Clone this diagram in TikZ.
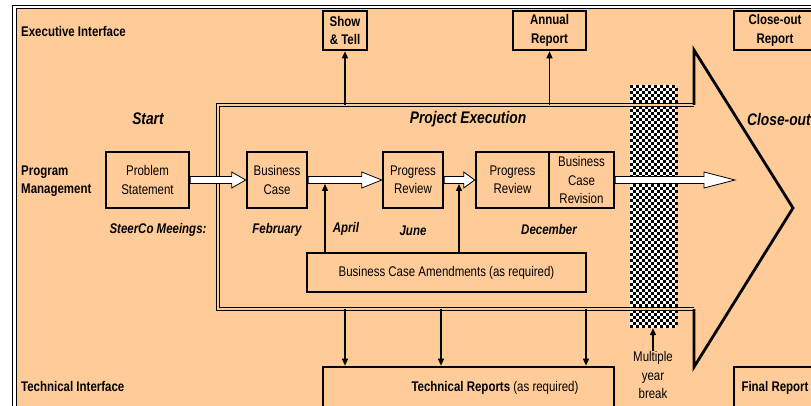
\documentclass[tikz,border=0pt]{standalone}
\usepackage{fontspec}
\setmainfont{Liberation Sans}[FakeStretch=0.82]
\usetikzlibrary{calc,arrows.meta}
\definecolor{peach}{RGB}{255,204,153}
\tikzset{
  box/.style={draw, line width=2.6pt, fill=peach, align=center, inner sep=0pt},
  lbl/.style={font=\bfseries, align=left, anchor=west, inner sep=0pt},
  stage/.style={font=\fontsize{16.8}{20}\selectfont\bfseries\itshape, inner sep=0pt},
  month/.style={font=\bfseries\itshape, inner sep=0pt},
  link/.style={line width=1.4pt, -{Triangle[length=7pt,width=6pt]}},
  frame/.style={line width=1.2pt, double distance=1.8pt},
}
% hollow block arrow: from, to, head length
\newcommand\fatarrow[3]{%
  \draw[line width=0.8pt, fill=white] let \p1=(#1), \p2=(#2) in
    (\x1,\y1+3.5pt) -- (\x2-#3,\y1+3.5pt) -- (\x2-#3,\y1+8pt) -- (\x2,\y1)
    -- (\x2-#3,\y1-8pt) -- (\x2-#3,\y1-3.5pt) -- (\x1,\y1-3.5pt) -- cycle;}

\begin{document}
\fontsize{14}{18.5}\selectfont
\begin{tikzpicture}[x=1pt,y=-1pt]
  %%%%% START %%%%%
  \useasboundingbox (0,0) rectangle (811,406);
  \draw[frame, double=white, fill=peach, line width=1.2pt, double distance=2.5pt] (14.5,7) rectangle (850,409);

  \node[lbl] (exec) at (21,31) {Executive Interface};
  \node[lbl] (prog) at (21,181) {Program\\Management};
  \node[lbl] (tech) at (21,386) {Technical Interface};

  % multiple year break
  \node[fill=white, minimum width=46pt, minimum height=243pt, inner sep=0pt] (chk) at (653,206.5) {};
  \foreach \j in {0,...,80} {
    \pgfmathsetmacro\off{mod(\j,2)*3}
    \foreach \i in {0,6,...,42}
      \fill (630+\i+\off,85+3*\j) rectangle ++(3,3);
  }
  \node[align=center, inner sep=0pt] (brk) at (653,375) {Multiple\\year\\break};
  \draw[link] (brk.north) -- (chk.south);

  % project execution arrow
  \coordinate (fnw) at (218,105);
  \coordinate (fsw) at (218,309);
  \coordinate (fne) at (694,105);
  \coordinate (fse) at (694,309);
  \coordinate (tip) at (793,208);
  \draw[frame, double=peach] (fne) -- (fnw) -- (fsw) -- (fse);
  \draw[line width=2.8pt] (fne) -- (694,50) -- (tip) -- (694,367) -- (fse);

  \node[stage] (start) at (148,119) {Start};
  \node[stage] (exe) at (468,119) {Project Execution};
  \node[stage, anchor=west] (close) at (747,119) {Close-out};

  % top boxes
  \node[box, minimum width=44pt, minimum height=39pt] (show) at (345,30.5) {\bfseries Show\\\bfseries \& Tell};
  \node[box, minimum width=73pt, minimum height=39pt] (annual) at (549.5,30.5) {\bfseries Annual\\\bfseries Report};
  \node[box, minimum width=82pt, minimum height=39pt] (cor) at (775,30.5) {\bfseries Close-out\\\bfseries Report};

  % program boxes
  \node[box, minimum width=83pt, minimum height=56pt] (prob) at (147.5,180) {Problem\\Statement};
  \node[box, minimum width=60pt, minimum height=56pt] (bc) at (277,180) {Business\\Case};
  \node[box, minimum width=60pt, minimum height=56pt] (pr1) at (413,180) {Progress\\Review};
  \node[box, minimum width=73pt, minimum height=56pt] (pr2) at (512.5,180) {Progress\\Review};
  \node[box, minimum width=65pt, minimum height=56pt] (bcr) at (581.5,180) {Business\\Case\\Revision};
  \coordinate (go) at (735,180);

  \fatarrow{prob.east}{bc.west}{14pt}
  \fatarrow{bc.east}{pr1.west}{20pt}
  \fatarrow{pr1.east}{pr2.west}{11pt}
  \fatarrow{bcr.east}{go}{31pt}

  \node[month] (steer) at (158,230) {SteerCo Meeings:};
  \node[month] (feb) at (277,230) {February};
  \node[month] (apr) at (346,229) {April};
  \node[month] (jun) at (413,231) {June};
  \node[month] (dec) at (549,229) {December};

  \node[box, minimum width=279pt, minimum height=39pt] (bca) at (446.5,272.5) {Business Case Amendments (as required)};
  \coordinate (up1) at (325,184);
  \coordinate (up2) at (459,184);
  \draw[link] (up1 |- bca.north) -- (up1);
  \draw[link] (up2 |- bca.north) -- (up2);

  % bottom boxes
  \node[box, minimum width=291pt, minimum height=41pt] (tr) at (468.5,387.5) {\hspace*{53pt}\textbf{Technical Reports} (as required)};
  \node[box, minimum width=82pt, minimum height=41pt] (fin) at (775,387.5) {\bfseries Final Report};

  % reporting links
  \draw[link] (show.south |- fnw) -- (show.south);
  \draw[link] (annual.south |- fnw) -- (annual.south);
  \foreach \x in {345,441,586} {
    \coordinate (dn) at (\x,309);
    \draw[link] (dn) -- (dn |- tr.north);
  }
  %%%%% END %%%%%
\end{tikzpicture}
\end{document}
